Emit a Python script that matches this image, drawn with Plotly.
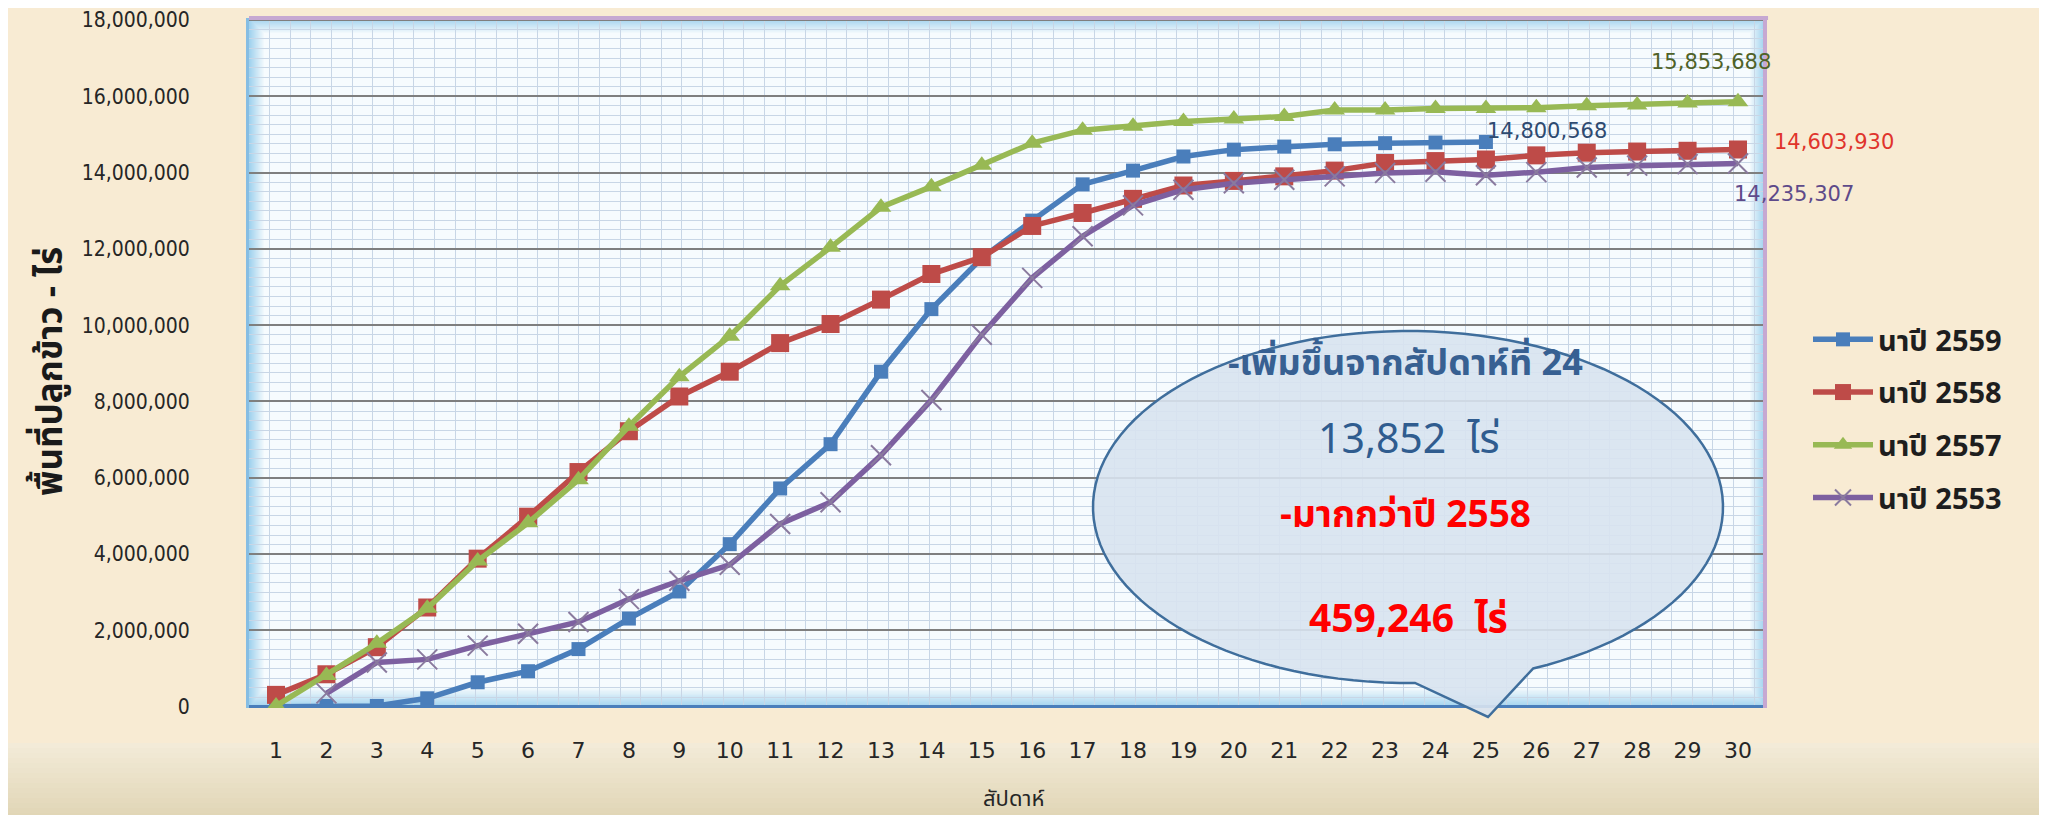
import math
import plotly.graph_objects as go

# ---------------- data ----------------
weeks = list(range(1, 31))
series_names = ["นาปี 2559", "นาปี 2558", "นาปี 2557", "นาปี 2553"]

area_2559 = [0, 20000, 20000, 220000, 640000, 930000, 1510000, 2310000, 3020000, 4260000,
             5720000, 6880000, 8780000, 10420000, 11760000, 12740000, 13690000, 14050000, 14420000, 14600000,
             14680000, 14740000, 14770000, 14786716, 14800568, None, None, None, None, None]
area_2558 = [310000, 850000, 1560000, 2600000, 3880000, 4980000, 6150000, 7220000, 8130000, 8780000,
             9530000, 10030000, 10670000, 11340000, 11780000, 12600000, 12940000, 13310000, 13660000, 13780000,
             13900000, 14050000, 14250000, 14300000, 14341322, 14450000, 14520000, 14550000, 14570000, 14603930]
area_2557 = [20000, 820000, 1660000, 2580000, 3820000, 4820000, 5950000, 7350000, 8650000, 9710000,
             11030000, 12040000, 13090000, 13630000, 14190000, 14770000, 15110000, 15210000, 15340000, 15400000,
             15470000, 15640000, 15640000, 15680000, 15680000, 15700000, 15750000, 15770000, 15820000, 15853688]
area_2553 = [None, 350000, 1160000, 1240000, 1600000, 1910000, 2220000, 2820000, 3300000, 3720000,
             4790000, 5360000, 6590000, 8040000, 9750000, 11240000, 12330000, 13140000, 13550000, 13720000,
             13810000, 13900000, 13990000, 14020000, 13930000, 14010000, 14130000, 14180000, 14220000, 14235307]

y_tick_vals = list(range(0, 18000001, 2000000))

# ---------------- layout geometry ----------------
W, H = 2047, 815
L, R, T, B = 241, 1757, 10, 700
PW, PH = R - L, B - T


def px(x):
    return (x - L) / PW


def py(y):
    return (B - y) / PH


THAI = "Tahoma, 'Noto Sans Thai', 'DejaVu Sans', sans-serif"
NUM = "'DejaVu Sans', Tahoma, sans-serif"
NUMC = "'DejaVu Sans Condensed', 'DejaVu Sans', sans-serif"

fig = go.Figure()

styles = [
    dict(color="#4A7EBB", symbol="square", size=14, mline=dict(width=0)),
    dict(color="#BE4B48", symbol="square", size=18, mline=dict(width=0)),
    dict(color="#98B954", symbol="triangle-up", size=18, mline=dict(width=0)),
    dict(color="#7D60A0", symbol="x-thin", size=20, mline=dict(width=2, color="#8A7A9E")),
]
series_vals = [area_2559, area_2558, area_2557, area_2553]

for i, (name, vals, st) in enumerate(zip(series_names, series_vals, styles)):
    fig.add_trace(go.Scatter(
        x=weeks, y=vals, name=f"<b>{name}</b>", mode="lines+markers",
        legendgroup=f"g{i}",
        line=dict(color=st["color"], width=5.5),
        marker=dict(symbol=st["symbol"], size=st["size"], color=st["color"], line=st["mline"]),
        connectgaps=False,
    ))

shapes = []
# bottom beige gradient of page background
n_b = 16
for k in range(n_b):
    y0 = 735 + k * 5
    t = k / (n_b - 1)
    c = [int(243 + (224 - 243) * t), int(235 + (213 - 235) * t), int(216 + (180 - 216) * t)]
    shapes.append(dict(type="rect", xref="paper", yref="paper", x0=px(0), x1=px(W), y0=py(y0), y1=py(y0 + 5.5),
                       fillcolor=f"rgb({c[0]},{c[1]},{c[2]})", line=dict(width=0), layer="below"))

# plot area inner glow (light blue edges -> near white center)
n_g = 16
for k in range(n_g):
    t = k / (n_g - 1)
    c = [int(160 + (246 - 160) * t), int(210 + (251 - 210) * t), int(238 + (254 - 238) * t)]
    shapes.append(dict(type="rect", xref="paper", yref="paper",
                       x0=px(L + k), x1=px(R - k), y0=py(B - k * 1.3), y1=py(T + k),
                       fillcolor=f"rgb({c[0]},{c[1]},{c[2]})", line=dict(width=0), layer="below"))

# border on top and right (lavender)
shapes.append(dict(type="line", xref="paper", yref="paper", x0=0, x1=1.002, y0=1.0, y1=1.0,
                   line=dict(color="#C6A8D2", width=4), layer="above"))
shapes.append(dict(type="line", xref="paper", yref="paper", x0=1.0, x1=1.0, y0=0, y1=1.0,
                   line=dict(color="#C6A8D2", width=4), layer="above"))

# speech bubble (oval callout)
cx, cy, rx, ry = 1400, 499, 315, 176
tip = (1480, 709)
t_r = math.acos(125 / rx)
t_l = math.acos(7 / rx) - 2 * math.pi
pts = []
N = 120
for j in range(N + 1):
    tt = t_r + (t_l - t_r) * j / N
    pts.append((cx + rx * math.cos(tt), cy + ry * math.sin(tt)))
pts.append(tip)
path = "M " + " L ".join(f"{px(x):.5f},{py(y):.5f}" for x, y in pts) + " Z"
shapes.append(dict(type="path", xref="paper", yref="paper", path=path,
                   fillcolor="rgba(216,227,240,0.9)", line=dict(color="#3F6E9C", width=2.5), layer="above"))

annotations = []
# axis titles
annotations.append(dict(text="<b>พื้นที่ปลูกข้าว - ไร่</b>", xref="paper", yref="paper", x=px(44), y=py(364),
                        textangle=-90, showarrow=False, font=dict(family=THAI, size=35, color="#1A1A1A"),
                        xanchor="center", yanchor="middle"))
annotations.append(dict(text="สัปดาห์", xref="paper", yref="paper", x=px(1006), y=py(791),
                        showarrow=False, font=dict(family=THAI, size=22, color="#262626"),
                        xanchor="center", yanchor="middle"))

# data labels
idx25 = weeks.index(25)
idx24 = weeks.index(24)
idx30 = weeks.index(30)
annotations.append(dict(x=25, y=area_2559[idx25], text=f"{area_2559[idx25]:,}", showarrow=False,
                        xanchor="left", yanchor="middle", xshift=-1, yshift=11,
                        font=dict(family=NUM, size=21, color="#2E4A70")))
annotations.append(dict(x=30, y=area_2557[idx30], text=f"{area_2557[idx30]:,}", showarrow=False,
                        xanchor="center", yanchor="middle", xshift=-27, yshift=40,
                        font=dict(family=NUM, size=21, color="#4F6228")))
annotations.append(dict(x=30, y=area_2558[idx30], text=f"{area_2558[idx30]:,}", showarrow=False,
                        xanchor="left", yanchor="middle", xshift=34, yshift=7,
                        font=dict(family=NUM, size=21, color="#E0342C")))
annotations.append(dict(x=30, y=area_2553[idx30], text=f"{area_2553[idx30]:,}", showarrow=False,
                        xanchor="left", yanchor="middle", xshift=-6, yshift=-30,
                        font=dict(family=NUM, size=21, color="#5E4A8A")))

# bubble texts
inc_week = area_2559[idx25] - area_2559[idx24]
diff_2558 = area_2559[idx25] - area_2558[idx25]
bub = [
    ("<b>-เพิ่มขึ้นจากสัปดาห์ที่ 24</b>", 1397, 356, 36, "#376092"),
    (f"{inc_week:,}  ไร่", 1401, 432, 41, "#2F5C8F"),
    ("<b>-มากกว่าปี 2558</b>", 1397, 508, 37, "#FF0000"),
    (f"<b>{diff_2558:,}  ไร่</b>", 1400, 612, 39, "#FF0000"),
]
for txt, x, y, sz, col in bub:
    annotations.append(dict(text=txt, xref="paper", yref="paper", x=px(x), y=py(y),
                            xanchor="center", yanchor="middle", showarrow=False,
                            font=dict(family=THAI, size=sz, color=col)))

fig.update_layout(
    width=W, height=H,
    margin=dict(l=L, r=W - R, t=T, b=H - B, autoexpand=False),
    paper_bgcolor="#F8EBD3",
    plot_bgcolor="#F4FAFE",
    shapes=shapes,
    annotations=annotations,
    showlegend=True,
    legend=dict(x=px(1800), y=py(306), xanchor="left", yanchor="top",
                font=dict(family=THAI, size=29, color="#1E1E1E"),
                bgcolor="rgba(0,0,0,0)", traceorder="grouped", tracegroupgap=12,
                itemwidth=60),
)

fig.update_xaxes(
    range=[0.4641, 30.536], tickmode="linear", tick0=1, dtick=1,
    showgrid=False, zeroline=False, showline=False, ticks="",
    tickfont=dict(family=NUM, size=22, color="#262626"),
    ticklabelstandoff=27,
    minor=dict(tickmode="linear", tick0=0.4641, dtick=0.409, showgrid=True,
               gridcolor="#C8D6E6", gridwidth=1, ticks=""),
)
fig.update_yaxes(
    range=[-34000, 18050000], tickmode="array", tickvals=y_tick_vals,
    tickformat=",d", showgrid=True, gridcolor="#7F7F7F", gridwidth=1.5,
    zeroline=True, zerolinecolor="#4A7EBB", zerolinewidth=3,
    showline=True, linecolor="#86BDE3", linewidth=3, ticks="",
    tickfont=dict(family=NUMC, size=21, color="#262626"),
    ticklabelstandoff=52,
    minor=dict(tickmode="linear", dtick=250000, showgrid=True, gridcolor="#C8D6E6", gridwidth=1, ticks=""),
)

fig.write_html("out.html")
